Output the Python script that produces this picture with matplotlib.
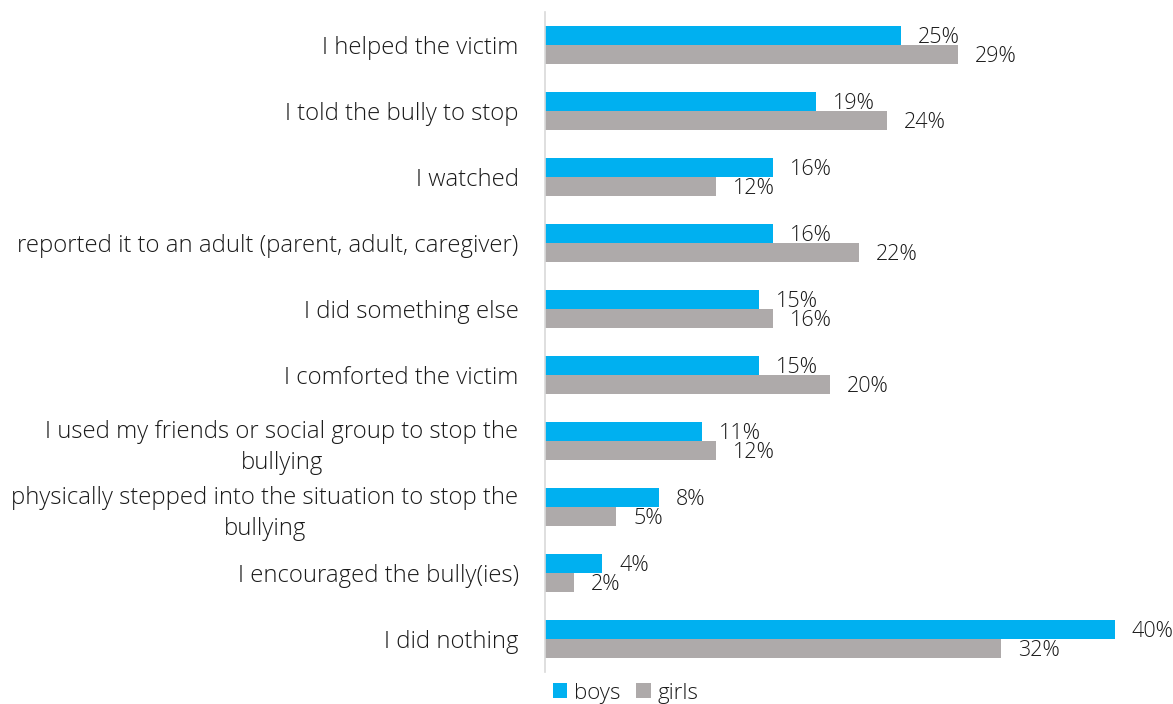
import numpy as np
import matplotlib.pyplot as plt

plt.rcParams['font.family'] = ['Open Sans', 'DejaVu Sans']

responses = [
    'I helped the victim',
    'I told the bully to stop',
    'I watched',
    'reported it to an adult (parent, adult, caregiver)',
    'I did something else',
    'I comforted the victim',
    'I used my friends or social group to stop the\nbullying',
    'physically stepped into the situation to stop the\nbullying',
    'I encouraged the bully(ies)',
    'I did nothing',
]
boys = [25, 19, 16, 16, 15, 15, 11, 8, 4, 40]
girls = [29, 24, 12, 22, 16, 20, 12, 5, 2, 32]

blue = '#00B0F0'
grey = '#AEAAAA'
ink = '#1A1A1A'

fig = plt.figure(figsize=(11.73, 7.04), dpi=100)
ax = fig.add_axes([545 / 1173, 1 - 672 / 704, (1143.5 - 545) / 1173, 660 / 704])

y = np.arange(len(responses))
h = 0.295
ax.barh(y - h / 2, boys, height=h, color=blue, label='boys')
ax.barh(y + h / 2, girls, height=h, color=grey, label='girls')

for i in range(len(responses)):
    ax.annotate(f'{boys[i]}%', (boys[i], y[i] - h / 2), xytext=(17, -2),
                textcoords='offset pixels', va='center', ha='left',
                fontsize=15.5, fontweight='light', color=ink)
    ax.annotate(f'{girls[i]}%', (girls[i], y[i] + h / 2), xytext=(17, -2),
                textcoords='offset pixels', va='center', ha='left',
                fontsize=15.5, fontweight='light', color=ink)

ax.set_xlim(0, 42)
ax.set_ylim(len(responses) - 0.5, -0.5)
ax.set_yticks(y)
ax.set_yticklabels(responses, fontsize=17.2, fontweight='light',
                   color=ink, multialignment='center', linespacing=1.4)
ax.tick_params(axis='y', length=0, pad=19)
ax.set_xticks([])
for s in ['top', 'right', 'bottom']:
    ax.spines[s].set_visible(False)
ax.spines['left'].set_color('#D9D9D9')
ax.spines['left'].set_linewidth(1.2)

ax.legend(loc='lower left', bbox_to_anchor=(544 / 1173, -0.012),
          bbox_transform=fig.transFigure, ncol=2, frameon=False,
          handlelength=0.65, handleheight=0.65, handletextpad=0.3,
          columnspacing=0.7, borderaxespad=0,
          prop={'size': 16, 'weight': 'light'})
for t in ax.get_legend().get_texts():
    t.set_color(ink)

fig.savefig('out.png', dpi=100)
